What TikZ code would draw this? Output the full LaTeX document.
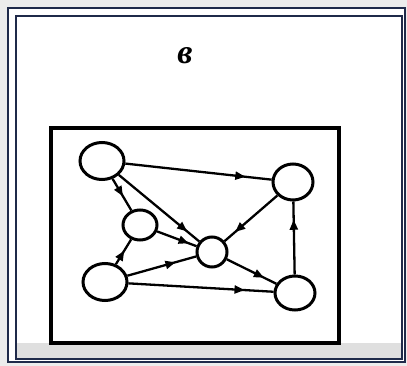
\documentclass[tikz,border=0pt]{standalone}
\usepackage{fontspec}
\newfontfamily\cyrfont{Liberation Serif}
\usetikzlibrary{decorations.markings,arrows.meta,shapes.geometric}
\definecolor{navy}{HTML}{1F2A4A}
\begin{document}
\begin{tikzpicture}[x=1pt,y=-1pt,
  vert/.style={draw=black,line width=3pt,ellipse,inner sep=0pt,fill=white},
  edge/.style={line width=2.3pt,postaction={decorate},
    decoration={markings,mark=at position #1 with {\arrow{Triangle[length=10pt,width=8pt]}}}},
  edge/.default=0.8]
\useasboundingbox (0,0) rectangle (407,366);
\fill[gray!15] (0,0) rectangle (407,366);
\fill[white] (7,7) rectangle (405,362);
\fill[gray!25] (16,343) rectangle (402,358);
\draw[navy,line width=2.4pt] (8,8) rectangle (405,362);
\draw[navy,line width=2.4pt] (16,16) rectangle (402,359);
\node[font=\cyrfont\bfseries\itshape\fontsize{34}{34}\selectfont] (title) at (185,56) {в};
\draw[line width=3.2pt] (51,128) rectangle (339,343);
\node[vert,minimum width=44pt,minimum height=37pt] (A) at (102,161) {};
\node[vert,minimum width=40pt,minimum height=36pt] (B) at (293,182) {};
\node[vert,minimum width=34pt,minimum height=30pt] (C) at (140,225) {};
\node[vert,minimum width=30pt,minimum height=30pt] (D) at (212,252) {};
\node[vert,minimum width=44pt,minimum height=37pt] (E) at (105,282) {};
\node[vert,minimum width=40pt,minimum height=34pt] (F) at (295,293) {};
\draw[edge=0.82] (A) -- (B);
\draw[edge=0.55] (A) -- (C);
\draw[edge=0.85] (A) -- (D);
\draw[edge=0.8] (C) -- (D);
\draw[edge=0.55] (E) -- (C);
\draw[edge=0.7] (E) -- (D);
\draw[edge=0.8] (E) -- (F);
\draw[edge=0.8] (B) -- (D);
\draw[edge=0.75] (D) -- (F);
\draw[edge=0.75] (F) -- (B);
\end{tikzpicture}
\end{document}
